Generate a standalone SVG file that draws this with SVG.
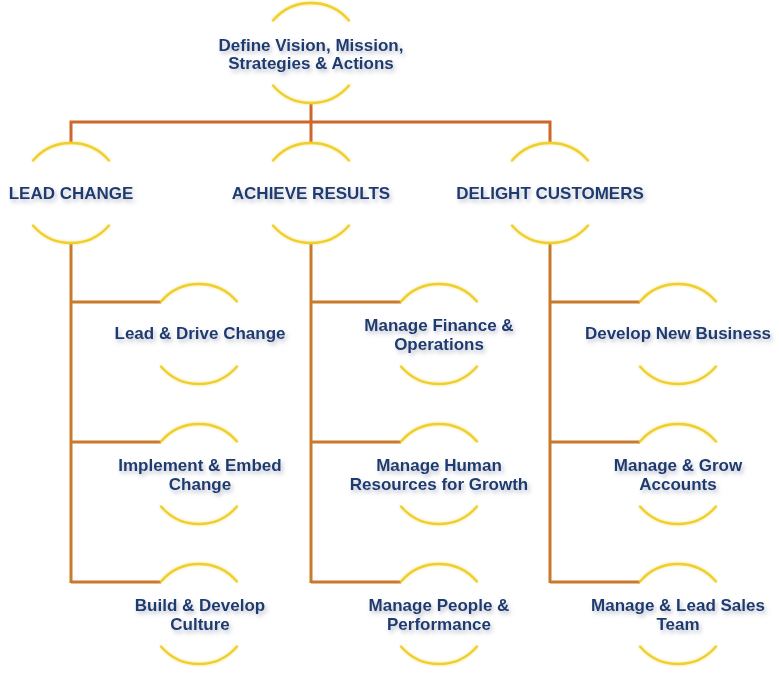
<svg xmlns="http://www.w3.org/2000/svg" width="779" height="674" viewBox="0 0 779 674">
  <defs>
    <filter id="glow" x="-20%" y="-50%" width="140%" height="200%">
      <feGaussianBlur in="SourceGraphic" stdDeviation="1.6" result="b"/>
      <feComponentTransfer in="b" result="bf"><feFuncA type="linear" slope="0.6"/></feComponentTransfer>
      <feMerge><feMergeNode in="bf"/><feMergeNode in="SourceGraphic"/></feMerge>
    </filter>
    <filter id="shadow" x="-10%" y="-40%" width="120%" height="180%">
      <feDropShadow dx="2" dy="3" stdDeviation="2.2" flood-color="#8088a0" flood-opacity="0.5"/>
    </filter>
    <style>
      .arc { fill: none; stroke: #efcf2e; stroke-width: 2.3; stroke-linecap: round; filter: url(#glow); }
      .con { fill: none; stroke: #c77a2b; stroke-width: 3; }
      .top { stroke: #cf672b; }
      .t { font-family: "Liberation Sans", Arial, sans-serif; font-weight: bold; font-size: 17px; fill: #1f3b70; text-anchor: middle; filter: url(#shadow); }
    </style>
  </defs>
  <rect width="779" height="674" fill="#ffffff"/>

  <g id="connectors">
    <path class="con top" d="M311 103 V122 M71 143 V122 H550 V143 M311 122 V143"/>
    <path class="con" d="M71 243 V583 M71 302 H161 M71 442 H161 M71 582 H161"/>
    <path class="con" d="M311 243 V583 M311 302 H401 M311 442 H401 M311 582 H401"/>
    <path class="con" d="M550 243 V583 M550 302 H640 M550 442 H640 M550 582 H640"/>
  </g>

  <g id="root">
    <path class="arc" d="M273 20.5 A50 50 0 0 1 349 20.5 M273 85.5 A50 50 0 0 0 349 85.5"/>
    <text class="t" x="311" y="51">Define Vision, Mission,</text>
    <text class="t" x="311" y="69">Strategies &amp; Actions</text>
  </g>

  <g id="lead-change">
    <path class="arc" d="M33 160.5 A50 50 0 0 1 109 160.5 M33 225.5 A50 50 0 0 0 109 225.5"/>
    <text class="t" x="71" y="199">LEAD CHANGE</text>
  </g>
  <g id="achieve-results">
    <path class="arc" d="M273 160.5 A50 50 0 0 1 349 160.5 M273 225.5 A50 50 0 0 0 349 225.5"/>
    <text class="t" x="311" y="199">ACHIEVE RESULTS</text>
  </g>
  <g id="delight-customers">
    <path class="arc" d="M512 160.5 A50 50 0 0 1 588 160.5 M512 225.5 A50 50 0 0 0 588 225.5"/>
    <text class="t" x="550" y="199">DELIGHT CUSTOMERS</text>
  </g>

  <g id="lead-drive-change">
    <path class="arc" d="M161 301.5 A50 50 0 0 1 237 301.5 M161 366.5 A50 50 0 0 0 237 366.5"/>
    <text class="t" x="200" y="339">Lead &amp; Drive Change</text>
  </g>
  <g id="implement-embed-change">
    <path class="arc" d="M161 441.5 A50 50 0 0 1 237 441.5 M161 506.5 A50 50 0 0 0 237 506.5"/>
    <text class="t" x="200" y="471">Implement &amp; Embed</text>
    <text class="t" x="200" y="490">Change</text>
  </g>
  <g id="build-develop-culture">
    <path class="arc" d="M161 581.5 A50 50 0 0 1 237 581.5 M161 646.5 A50 50 0 0 0 237 646.5"/>
    <text class="t" x="200" y="611">Build &amp; Develop</text>
    <text class="t" x="200" y="630">Culture</text>
  </g>

  <g id="manage-finance">
    <path class="arc" d="M401 301.5 A50 50 0 0 1 477 301.5 M401 366.5 A50 50 0 0 0 477 366.5"/>
    <text class="t" x="439" y="331">Manage Finance &amp;</text>
    <text class="t" x="439" y="350">Operations</text>
  </g>
  <g id="manage-hr">
    <path class="arc" d="M401 441.5 A50 50 0 0 1 477 441.5 M401 506.5 A50 50 0 0 0 477 506.5"/>
    <text class="t" x="439" y="471">Manage Human</text>
    <text class="t" x="439" y="490">Resources for Growth</text>
  </g>
  <g id="manage-people">
    <path class="arc" d="M401 581.5 A50 50 0 0 1 477 581.5 M401 646.5 A50 50 0 0 0 477 646.5"/>
    <text class="t" x="439" y="611">Manage People &amp;</text>
    <text class="t" x="439" y="630">Performance</text>
  </g>

  <g id="develop-new-business">
    <path class="arc" d="M640 301.5 A50 50 0 0 1 716 301.5 M640 366.5 A50 50 0 0 0 716 366.5"/>
    <text class="t" x="678" y="339">Develop New Business</text>
  </g>
  <g id="manage-grow-accounts">
    <path class="arc" d="M640 441.5 A50 50 0 0 1 716 441.5 M640 506.5 A50 50 0 0 0 716 506.5"/>
    <text class="t" x="678" y="471">Manage &amp; Grow</text>
    <text class="t" x="678" y="490">Accounts</text>
  </g>
  <g id="manage-lead-sales">
    <path class="arc" d="M640 581.5 A50 50 0 0 1 716 581.5 M640 646.5 A50 50 0 0 0 716 646.5"/>
    <text class="t" x="678" y="611">Manage &amp; Lead Sales</text>
    <text class="t" x="678" y="630">Team</text>
  </g>
</svg>
